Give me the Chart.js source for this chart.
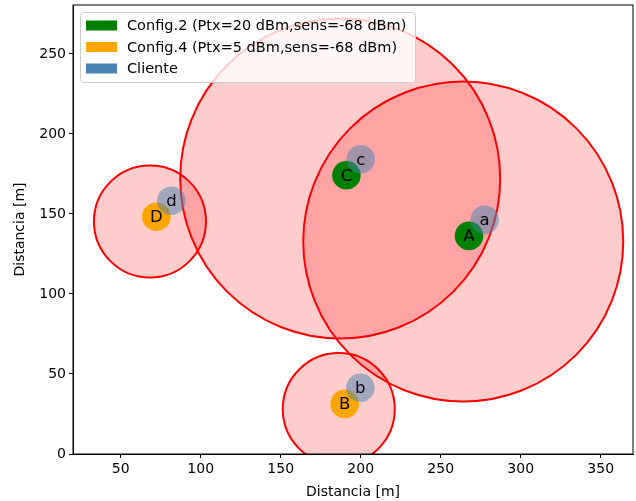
<!DOCTYPE html>
<html>
<head>
<meta charset="utf-8">
<script src="https://cdn.jsdelivr.net/npm/chart.js@4/dist/chart.umd.min.js"></script>
<style>
html, body { margin: 0; padding: 0; background: #fff; }
</style>
</head>
<body>
<canvas id="mapa" width="636" height="501"></canvas>
<script>
// puntos de acceso
const apNombres = ['A', 'B', 'C', 'D'];
const apX = [267.7, 190.0, 191.1, 72.3];
const apY = [136.3, 31.3, 174.2, 148.3];
const apConfig = [2, 4, 2, 4];

// zonas de cobertura
const zonaX = [264.1, 186.3, 187.2, 68.3];
const zonaY = [132.8, 28.1, 172.2, 145.3];
const zonaR = [100, 35, 100, 35];

// clientes
const cliNombres = ['a', 'b', 'c', 'd'];
const cliX = [277.5, 199.8, 200.0, 81.7];
const cliY = [146.3, 41.4, 184.2, 158.3];

// ejes
const ticksX = [50, 100, 150, 200, 250, 300, 350];
const ticksY = [0, 50, 100, 150, 200, 250];
const rangoX = [20.2, 370.2];
const rangoY = [0, 280.6];

const leyenda = [
    { texto: 'Config.2 (Ptx=20 dBm,sens=-68 dBm)', color: '#008000' },
    { texto: 'Config.4 (Ptx=5 dBm,sens=-68 dBm)', color: '#ffa500' },
    { texto: 'Cliente', color: '#4682b4' }
];

const FUENTE = "'DejaVu Sans', sans-serif";
const colorAP = { 2: '#008000', 4: '#ffa500' };

const zonas = zonaX.map((x, i) => ({ x: x, y: zonaY[i], r: zonaR[i] }));
const aps = apX.map((x, i) => ({ x: x, y: apY[i], nombre: apNombres[i] }));
const clientes = cliX.map((x, i) => ({ x: x, y: cliY[i], nombre: cliNombres[i] }));

// radio en pixeles a partir del radio en metros
function radioPx(ctx) {
    if (!ctx.raw) return 0;
    const sx = ctx.chart.scales.x;
    return Math.abs(sx.getPixelForValue(ctx.raw.r) - sx.getPixelForValue(0));
}

const marco = {
    id: 'marco',
    afterDatasetsDraw(chart) {
        const { ctx, chartArea: a } = chart;
        ctx.save();
        ctx.strokeStyle = '#000';
        ctx.lineWidth = 1;
        ctx.strokeRect(a.left, a.top, a.right - a.left, a.bottom - a.top);
        ctx.restore();
    }
};

const etiquetas = {
    id: 'etiquetas',
    afterDatasetsDraw(chart) {
        const ctx = chart.ctx;
        ctx.save();
        ctx.font = '16.5px ' + FUENTE;
        ctx.fillStyle = '#000';
        ctx.textAlign = 'center';
        ctx.textBaseline = 'middle';
        [1, 0].forEach(d => {
            const meta = chart.getDatasetMeta(d);
            const datos = chart.data.datasets[d].data;
            meta.data.forEach((p, i) => ctx.fillText(datos[i].nombre, p.x, p.y + 1));
        });
        ctx.restore();
    }
};

const cajaLeyenda = {
    id: 'cajaLeyenda',
    afterDraw(chart) {
        const ctx = chart.ctx;
        const a = chart.chartArea;
        const x0 = a.left + 7, y0 = a.top + 7;
        ctx.save();
        ctx.beginPath();
        ctx.roundRect(x0 + 0.5, y0 + 0.5, 335, 70, 3);
        ctx.fillStyle = 'rgba(255,255,255,0.8)';
        ctx.fill();
        ctx.strokeStyle = '#cccccc';
        ctx.lineWidth = 1;
        ctx.stroke();
        ctx.font = '14.5px ' + FUENTE;
        ctx.textBaseline = 'middle';
        leyenda.forEach((l, i) => {
            const yc = y0 + 13.5 + i * 21.5;
            ctx.fillStyle = l.color;
            ctx.fillRect(x0 + 6, yc - 5, 31, 10);
            ctx.fillStyle = '#000';
            ctx.fillText(l.texto, x0 + 47, yc + 1);
        });
        ctx.restore();
    }
};

function fijarTicks(valores) {
    return s => { s.ticks = valores.map(v => ({ value: v })); };
}

new Chart(document.getElementById('mapa'), {
    type: 'scatter',
    data: {
        datasets: [
            {
                data: clientes,
                order: 1,
                pointRadius: 14.3,
                pointBackgroundColor: 'rgba(70,130,180,0.5)',
                pointBorderWidth: 0
            },
            {
                data: aps,
                order: 2,
                pointRadius: 14.3,
                pointBackgroundColor: ctx => ctx.raw ? colorAP[apConfig[ctx.dataIndex]] : '#008000',
                pointBorderWidth: 0
            },
            {
                data: zonas,
                order: 3,
                clip: 0,
                pointRadius: radioPx,
                pointBackgroundColor: 'rgba(255,0,0,0.2)',
                pointBorderColor: '#ff0000',
                pointBorderWidth: 2
            }
        ]
    },
    options: {
        responsive: false,
        animation: false,
        events: [],
        layout: { autoPadding: false, padding: { top: 5, right: 3, left: 0, bottom: 0 } },
        plugins: { legend: { display: false }, tooltip: { enabled: false } },
        scales: {
            x: {
                type: 'linear',
                min: rangoX[0],
                max: rangoX[1],
                afterBuildTicks: fijarTicks(ticksX),
                afterFit: s => { s.height = 47; s.paddingLeft = 0; s.paddingRight = 0; },
                ticks: { color: '#000', padding: 3, maxRotation: 0, font: { family: FUENTE, size: 14 } },
                grid: { drawOnChartArea: false, tickLength: 4, color: '#000' },
                border: { color: '#000', width: 1 },
                title: { display: true, text: 'Distancia [m]', color: '#000', padding: { top: 2, bottom: 0 }, font: { family: FUENTE, size: 14 } }
            },
            y: {
                type: 'linear',
                min: rangoY[0],
                max: rangoY[1],
                afterBuildTicks: fijarTicks(ticksY),
                afterFit: s => { s.width = 73; s.paddingTop = 0; s.paddingBottom = 0; },
                ticks: { color: '#000', padding: 3, font: { family: FUENTE, size: 14 } },
                grid: { drawOnChartArea: false, tickLength: 4, color: '#000' },
                border: { color: '#000', width: 1 },
                title: { display: true, text: 'Distancia [m]', color: '#000', padding: { top: 12, bottom: 0 }, font: { family: FUENTE, size: 14 } }
            }
        }
    },
    plugins: [marco, etiquetas, cajaLeyenda]
});
</script>
</body>
</html>
